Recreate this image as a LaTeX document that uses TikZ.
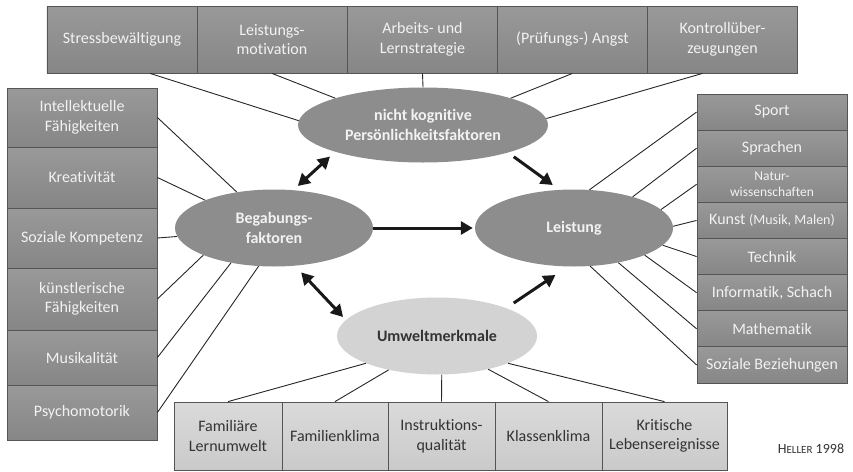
\documentclass[tikz,border=0pt]{standalone}
\usepackage{fontspec}
\setmainfont[Ligatures=NoCommon]{Carlito}
\usetikzlibrary{shapes.geometric}
\usetikzlibrary{arrows.meta}

\definecolor{darkfill}{HTML}{8D8D8D}
\definecolor{darktop}{HTML}{999999}
\definecolor{darkbot}{HTML}{868686}
\definecolor{lightfill}{HTML}{D3D3D3}
\definecolor{lighttop}{HTML}{DADADA}
\definecolor{lightbot}{HTML}{CACACA}
\definecolor{boxline}{HTML}{555555}
\definecolor{darktext}{HTML}{333333}
\definecolor{brighttext}{HTML}{F2F2F2}

\tikzset{
  darkbox/.style={draw=boxline, line width=0.8pt, top color=darktop, bottom color=darkbot,
    text=brighttext, align=center, inner sep=1pt, font=\fontsize{16}{19.5}\selectfont},
  lightbox/.style={darkbox, top color=lighttop, bottom color=lightbot, text=darktext},
  smalltext/.style={font=\fontsize{13.5}{15.5}\selectfont},
  plaintext/.style={},
  darkoval/.style={ellipse, fill=darkfill, text=brighttext, align=center, inner sep=0pt,
    font=\bfseries\fontsize{16}{19.5}\selectfont},
  lightoval/.style={darkoval, fill=lightfill, text=darktext},
  spoke/.style={line width=0.9pt, black!85},
  bigarrow/.style={line width=3pt, black!90, arrows={-Triangle[length=12pt,width=13pt]}},
  twohead/.style={arrows={Triangle[length=12pt,width=13pt]-Triangle[length=12pt,width=13pt]}}
}

\begin{document}
\begin{tikzpicture}[x=1pt, y=-1pt]
    \useasboundingbox (0,0) rectangle (853,471);

    % the four factor groups
    \node[darkoval, minimum width=250, minimum height=75] (pers) at (423,125) {nicht kognitive\\Persönlichkeitsfaktoren};
    \node[darkoval, minimum width=198, minimum height=77] (beg) at (274,228) {Begabungs-\\faktoren};
    \node[darkoval, minimum width=198, minimum height=77] (leist) at (574,228) {Leistung};
    \node[lightoval, minimum width=200, minimum height=77] (umw) at (437,336) {Umweltmerkmale};

    % top row
    \foreach \name/\txt/\xc/\ang/\off in {stress/Stressbewältigung/122/178/28,
            lmot/{Leistungs-\\motivation}/272/163/0,
            arbeit/{Arbeits- und\\Lernstrategie}/422.5/90/0,
            angst/{(Prüfungs-) Angst}/572.5/17/0,
            kontr/{Kontrollüber-\\zeugungen}/722.5/3/-20}
    {
        \node[darkbox, minimum width=150.2, minimum height=67] (\name) at (\xc,39.5) {\txt};
        \draw[spoke] ([xshift=\off]\name.south) -- (pers.\ang);
    }

    % left column
    \foreach \name/\txt/\yc/\h/\ang in {intel/{Intellektuelle\\Fähigkeiten}/117.5/59/136,
            kreat/Kreativität/177.5/61/158,
            sozkomp/Soziale Kompetenz/238/60/185,
            kuenst/{künstlerische\\Fähigkeiten}/299/62/201,
            musik/Musikalität/357.5/55/219,
            psycho/Psychomotorik/412.5/55/248}
    {
        \node[darkbox, minimum width=150, minimum height=\h] (\name) at (82,\yc) {\txt};
        \draw[spoke] (\name.east) -- (beg.\ang);
    }

    % right column
    \foreach \name/\txt/\ang/\sty [count=\i] in {sport/Sport/68/plaintext,
            sprach/Sprachen/28/plaintext,
            natur/{Natur-\\wissenschaften}/12/smalltext,
            kunst/{Kunst {\fontsize{14}{16}\selectfont(Musik, Malen)}}/1/plaintext,
            technik/Technik/-11/plaintext,
            inform/{Informatik, Schach}/-21/plaintext,
            mathe/Mathematik/-38/plaintext,
            sozbez/Soziale Beziehungen/-67/plaintext}
    {
        \node[darkbox, \sty, minimum width=150, minimum height=36.1] (\name) at (772,{112.06+36.125*(\i-1)}) {\txt};
        \draw[spoke] (\name.west) -- (leist.\ang);
    }

    % bottom row
    \foreach \name/\txt/\xc/\w/\ang in {famlern/{Familiäre\\Lernumwelt}/228/108/201,
            famklima/Familienklima/335/106/215,
            instr/{Instruktions-\\qualität}/441.5/107/277,
            klasse/Klassenklima/548.5/107/327,
            krit/{Kritische\\Lebensereignisse}/664.5/125/339}
    {
        \node[lightbox, minimum width=\w, minimum height=68] (\name) at (\xc,436) {\txt};
        \draw[spoke] (\name.north) -- (umw.\ang);
    }

    % influences
    \draw[bigarrow, twohead, shorten <=7pt, shorten >=6pt] (pers.197) -- (beg.63);
    \draw[bigarrow, shorten <=7pt, shorten >=8pt] (pers.342) -- (leist.111);
    \draw[bigarrow, shorten >=2pt] (beg.east) -- (leist.west);
    \draw[bigarrow, twohead, shorten <=9pt, shorten >=4pt] (beg.299) -- (umw.170);
    \draw[bigarrow, shorten <=9pt, shorten >=15pt] (umw.22) -- (leist.261);

    \node[text=darktext, font=\fontsize{14}{14}\selectfont] (src) at (811,449) {H{\fontsize{11}{11}\selectfont ELLER} 1998};
\end{tikzpicture}
\end{document}
